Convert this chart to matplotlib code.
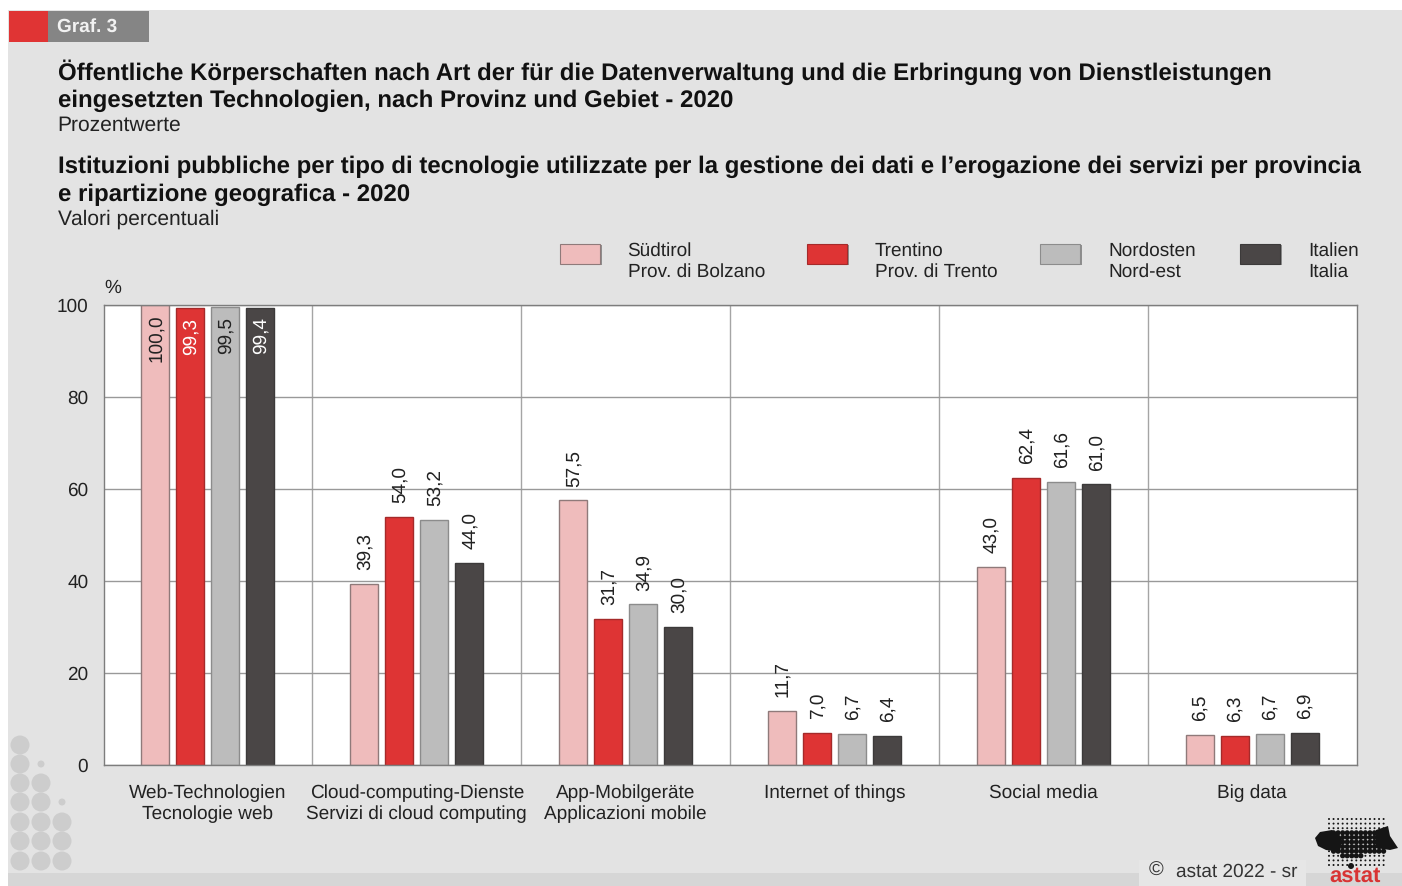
import matplotlib
matplotlib.use('Agg')
import matplotlib.pyplot as plt
from matplotlib.patches import Rectangle, Circle, Polygon
from matplotlib.transforms import IdentityTransform
import numpy as np

plt.rcParams['font.family'] = ['Liberation Sans', 'DejaVu Sans']
plt.rcParams['text.hinting'] = 'no_hinting'
plt.rcParams['text.hinting_factor'] = 1

# datos
categorias = ['Web-Technologien\nTecnologie web',
              'Cloud-computing-Dienste\nServizi di cloud computing',
              'App-Mobilgeräte\nApplicazioni mobile',
              'Internet of things', 'Social media', 'Big data']
series = ['Südtirol\nProv. di Bolzano', 'Trentino\nProv. di Trento',
          'Nordosten\nNord-est', 'Italien\nItalia']
suedtirol = [100.0, 39.3, 57.5, 11.7, 43.0, 6.5]
trentino = [99.3, 54.0, 31.7, 7.0, 62.4, 6.3]
nordosten = [99.5, 53.2, 34.9, 6.7, 61.6, 6.7]
italien = [99.4, 44.0, 30.0, 6.4, 61.0, 6.9]
yticks = [0, 20, 40, 60, 80, 100]
colores = ['#efbcbc', '#de3434', '#bcbcbc', '#4a4646']
bordes = ['#8f7a7a', '#a52a2a', '#8c8c8c', '#3c3a3a']

W, H = 1402, 886
fig = plt.figure(figsize=(W / 100, H / 100), dpi=100, facecolor='white')


# coordenadas en pixeles de la imagen
def fx(x):
    return x / W


def fy(y):
    return 1 - y / H


def caja(x0, y0, x1, y1, **kw):
    r = Rectangle((fx(x0), fy(y1)), (x1 - x0) / W, (y1 - y0) / H,
                  transform=fig.transFigure, **kw)
    fig.add_artist(r)
    return r


def texto(x, y, s, size=14.2, **kw):
    kw.setdefault('va', 'center')
    kw.setdefault('color', '#222222')
    fig.text(fx(x), fy(y), s, fontsize=size, **kw)


def punto(x, y, r, color):
    # circulo en pixeles
    fig.add_artist(Circle((x, H - y), r, color=color, lw=0, transform=IdentityTransform()))


# fondo
caja(8, 10, W, H, color='#e3e3e3', lw=0)
caja(8, 873, W, H, color='#d6d6d6', lw=0)
caja(9, 11, 48, 42, color='#e03434', lw=0)
caja(48, 11, 149, 42, color='#858585', lw=0)
texto(57, 27, 'Graf. 3', size=13.4, color='#f2f2f2', fontweight='bold')

# titulos
texto(58, 72, 'Öffentliche Körperschaften nach Art der für die Datenverwaltung und die Erbringung von Dienstleistungen',
      size=17.44, fontweight='bold', color='#111111')
texto(58, 100.5, 'eingesetzten Technologien, nach Provinz und Gebiet - 2020',
      size=17.44, fontweight='bold', color='#111111')
texto(57.5, 125, 'Prozentwerte', size=14.8)
texto(58, 167, 'Istituzioni pubbliche per tipo di tecnologie utilizzate per la gestione dei dati e l’erogazione dei servizi per provincia',
      size=17.44, fontweight='bold', color='#111111')
texto(58, 194.5, 'e ripartizione geografica - 2020',
      size=17.44, fontweight='bold', color='#111111')
texto(57.5, 219, 'Valori percentuali', size=14.8)

# puntos decorativos de la izquierda
filas = [745, 764, 783, 802, 822, 841, 861]
for y in filas:
    punto(20, y, 9.5, '#cdcdcd')
for y in filas[2:]:
    punto(41, y, 9.5, '#cdcdcd')
for y in filas[4:]:
    punto(62, y, 9.5, '#cdcdcd')
punto(41, 764, 3.5, '#cdcdcd')
punto(62, 802, 3.5, '#cdcdcd')

# grafico
ax = fig.add_axes([fx(103.5), fy(765), (1356.5 - 103.5) / W, (765 - 305) / H])
ax.set_zorder(5)
ax.set_facecolor('white')
ax.set_xlim(0, 6)
ax.set_ylim(0, 100)
ax.set_yticks(yticks)
ax.set_xticks(np.arange(6) + 0.5)
ax.set_xticklabels(categorias, fontsize=13.4, color='#222222', linespacing=1.26, va='top')
ax.tick_params(axis='y', length=0, labelsize=13.6, labelcolor='#222222', pad=11)
ax.tick_params(axis='x', length=0, labelcolor='#222222', pad=14)
for s in ax.spines.values():
    s.set_color('#7d7d7d')
    s.set_linewidth(1.0)
ax.set_axisbelow(True)
ax.yaxis.grid(True, color='#999999', lw=1.0)
for i in range(1, 6):
    ax.axvline(i, color='#a5a5a5', lw=1.0, zorder=0.5)

ancho = 28 / 208.83
paso = 35 / 208.83
x = np.arange(6) + 0.5
valores = [suedtirol, trentino, nordosten, italien]
for j, vals in enumerate(valores):
    xs = x + (j - 1.5) * paso
    ax.bar(xs, vals, ancho, color=colores[j], edgecolor=bordes[j], lw=1, zorder=2)
    for k, v in enumerate(vals):
        lab = f'{v:.1f}'.replace('.', ',')
        if v > 90:
            col = 'white' if j in (1, 3) else '#222222'
            ax.annotate(lab, (xs[k], v), xytext=(0.4, -7), textcoords='offset points',
                        rotation=90, ha='center', va='top', fontsize=13.4, color=col, zorder=3)
        else:
            ax.annotate(lab, (xs[k], v), xytext=(0.4, 10), textcoords='offset points',
                        rotation=90, ha='center', va='bottom', fontsize=13.4, color='#222222', zorder=3)

texto(104, 288, '%', size=13.4)

# leyenda
ley_x = [560, 807, 1040, 1240]
txt_x = [627.5, 875, 1108.5, 1308]
for j in range(4):
    caja(ley_x[j] + 1.5, 245.5, ley_x[j] + 41.5, 265.5, color='#8f8f8f', lw=0)
    caja(ley_x[j], 243.5, ley_x[j] + 40, 263.5, facecolor=colores[j], edgecolor=bordes[j], lw=0.8)
    texto(txt_x[j], 261.5, series[j], size=13.45, linespacing=1.28)

# pie
caja(1139, 860, 1306, 886, color='#e6e6e6', lw=0)
texto(1149, 871, '©', size=14.5, color='#333333')
texto(1176, 872, 'astat 2022 - sr', size=13.6, color='#333333')

# logo
for col in range(13):
    for fil in range(11):
        px, py = 1329 + col * 4.55, 819 + fil * 4.6
        fuerte = 3 <= fil <= 7 and 1 <= col <= 12
        if fil == 8 and 3 <= col <= 7:
            fuerte = True
        punto(px, py, 2.6 if fuerte else 1.0, '#151515')
fig.add_artist(Polygon([(1315 / W, fy(838)), (1320 / W, fy(832)), (1332 / W, fy(830)), (1342 / W, fy(838)),
                        (1340 / W, fy(852)), (1326 / W, fy(850)), (1318 / W, fy(846))],
                       closed=True, color='#151515', lw=0, transform=fig.transFigure))
fig.add_artist(Polygon([(1376 / W, fy(830)), (1388 / W, fy(826)), (1390 / W, fy(836)), (1398 / W, fy(848)),
                        (1390 / W, fy(850)), (1376 / W, fy(848))],
                       closed=True, color='#151515', lw=0, transform=fig.transFigure))
punto(1351, 866, 3, '#151515')
texto(1329, 876, 'astat', size=15.5, color='#d83434', fontweight='bold')

fig.savefig('out.png', dpi=100, facecolor='white')
